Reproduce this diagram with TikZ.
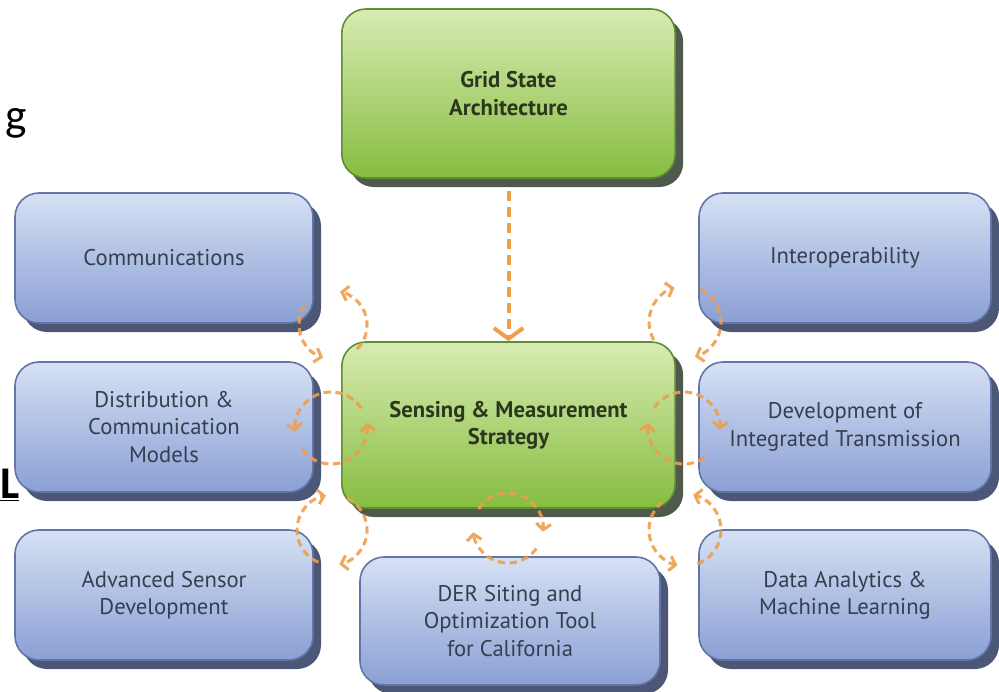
\documentclass[tikz,border=0pt]{standalone}
\usepackage{fontspec}
\setmainfont{PT Sans}
\newfontfamily\slidefont{Carlito}
\usetikzlibrary{arrows.meta,shadows}
\definecolor{bluetop}{HTML}{D6E1F4}
\definecolor{bluebot}{HTML}{8A9FD4}
\definecolor{blueedge}{HTML}{6375A6}
\definecolor{blueshade}{HTML}{4C5677}
\definecolor{greentop}{HTML}{D8EBB2}
\definecolor{greenbot}{HTML}{86BD40}
\definecolor{greenedge}{HTML}{5E8E34}
\definecolor{greenshade}{HTML}{505A4C}
\definecolor{bluetext}{HTML}{363F50}
\definecolor{greentext}{HTML}{2B371F}
\definecolor{arroworange}{HTML}{EE9E4C}
% one dashed arc of a feedback loop: centre, start angle, end angle, radius
\newcommand\turnarc[4]{\draw[cyc] ([shift={(#2:#4)}]#1) arc[start angle=#2,end angle=#3,radius=#4];}
\begin{document}
\begin{tikzpicture}[x=0.75pt,y=-0.75pt,
  box/.style={rounded corners=18pt, line width=1.2pt, align=center, inner sep=0pt,
    font=\fontsize{17}{20.5}\selectfont},
  bluebox/.style={box, draw=blueedge, top color=bluetop, bottom color=bluebot, text=bluetext,
    general shadow={fill=blueshade, shadow xshift=6pt, shadow yshift=-6.75pt},
    minimum width=219pt, minimum height=97.5pt},
  greenbox/.style={box, draw=greenedge, top color=greentop, bottom color=greenbot, text=greentext,
    font=\fontsize{17}{20.5}\selectfont\bfseries,
    general shadow={fill=greenshade, shadow xshift=6pt, shadow yshift=-6.75pt},
    minimum width=250pt},
  mainarrow/.style={draw=arroworange, line width=3pt, dash pattern=on 8pt off 4pt,
    -{Straight Barb[length=8pt,width=22pt]}},
  cyc/.style={draw=arroworange, line width=2.3pt, dash pattern=on 5.5pt off 3.5pt, opacity=0.9,
    -{Straight Barb[length=4.5pt,width=11pt]}},
  fragment/.style={inner sep=0pt, text=black}
]
\useasboundingbox (0,0) rectangle (999,692);

% fragments of surrounding slide text
\node[fragment, anchor=base east, font=\slidefont\fontsize{34}{40}\selectfont] (fragg) at (27,130) {g};
\node[fragment, anchor=base west, font=\slidefont\fontsize{34}{40}\selectfont\bfseries] (fragl) at (0,498) {\underline{L}};

% central boxes
\node[greenbox, minimum height=126.75pt] (grid) at (508.5,93.5) {Grid State\\Architecture};
\node[greenbox, minimum height=124.5pt] (sense) at (508.5,425) {Sensing \& Measurement\\Strategy};

% surrounding topic boxes
\node[bluebox, minimum width=223.5pt] (comm) at (164,258) {Communications};
\node[bluebox, minimum width=223.5pt] (dist) at (164,427) {Distribution \&\\Communication\\Models};
\node[bluebox, minimum width=223.5pt] (adv) at (164,595) {Advanced Sensor\\Development};
\node[bluebox] (inter) at (845,258) {Interoperability};
\node[bluebox] (dev) at (845,427) {Development of\\Integrated Transmission};
\node[bluebox] (data) at (845,595) {Data Analytics \&\\Machine Learning};
\node[bluebox, minimum width=225pt, minimum height=96pt] (der) at (510,621) {DER Siting and\\Optimization Tool\\for California};

% architecture feeds the strategy
\draw[mainarrow] ([yshift=-9pt]grid.south) -- (sense.north);

% feedback loops between the strategy and each topic
\coordinate (lcomm) at (333,325);
\coordinate (ldist) at (331,428);
\coordinate (ladv) at (332,530);
\coordinate (lder) at (508,528);
\coordinate (ldata) at (685,530);
\coordinate (ldev) at (684,428);
\coordinate (linter) at (685,322);

\turnarc{lcomm}{45}{-78}{34}
\turnarc{lcomm}{215}{107}{34}
\turnarc{ldist}{-33}{-186}{36}
\turnarc{ldist}{144}{-8}{36}
\turnarc{ladv}{113}{260}{35}
\turnarc{ladv}{-65}{78}{35}
\turnarc{lder}{213}{366}{35}
\turnarc{lder}{36}{173}{35}
\turnarc{ldata}{231}{102}{36}
\turnarc{ldata}{70}{-77}{36}
\turnarc{ldev}{214}{363}{36}
\turnarc{ldev}{55}{188}{36}
\turnarc{linter}{150}{253}{36}
\turnarc{linter}{-65}{74}{36}
\end{tikzpicture}
\end{document}
